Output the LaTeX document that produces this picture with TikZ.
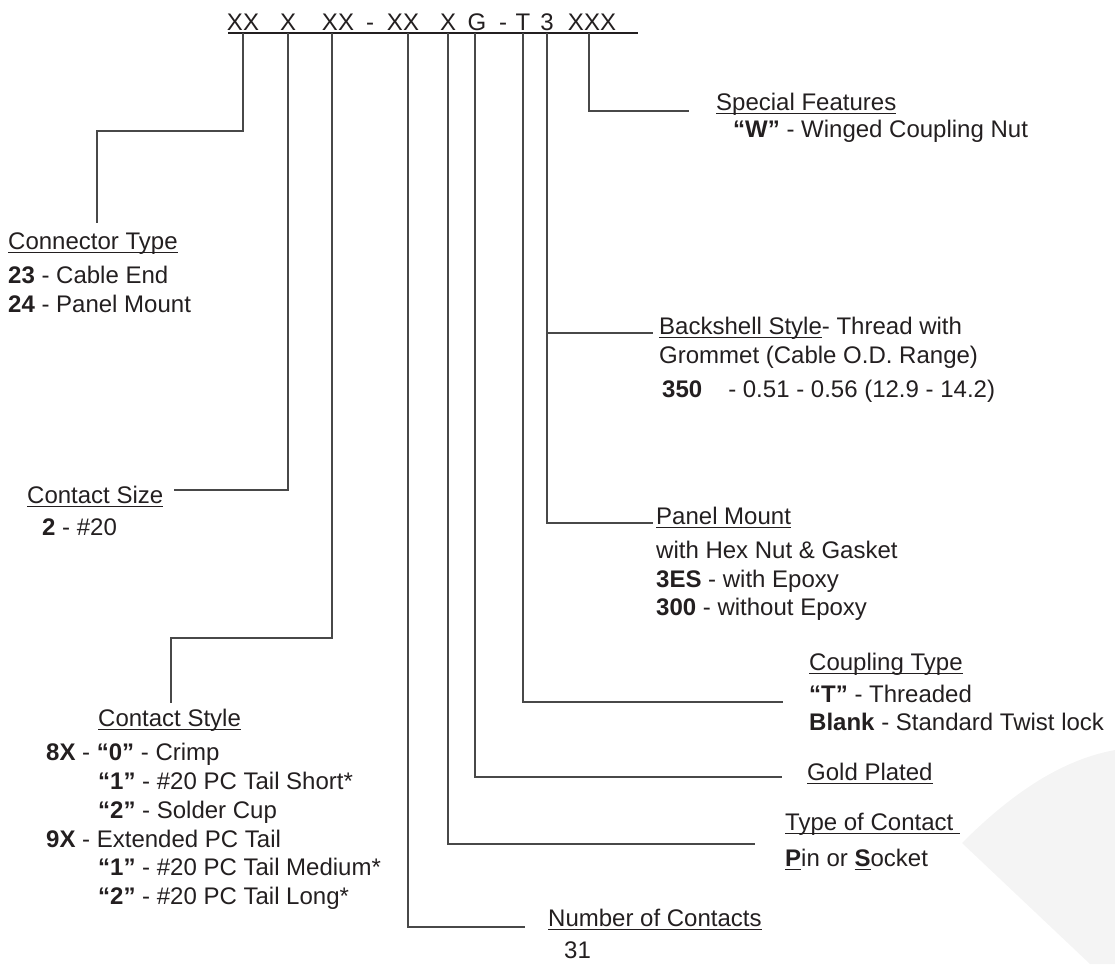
\documentclass[tikz,border=0pt]{standalone}
\usepackage{fontspec}
\setmainfont{Liberation Sans}
\usepackage{tikz}

\definecolor{ink}{RGB}{35,31,32}
\definecolor{wirec}{RGB}{72,72,72}
\definecolor{wmark}{RGB}{244,244,244}
\newcommand{\undl}[1]{\setbox0\hbox{#1}\rlap{\rule[-4pt]{\wd0}{1.3pt}}\box0}

\begin{document}
\begin{tikzpicture}[x=1pt, y=-1pt,
    lbl/.style={anchor=base west, inner sep=0pt, text=ink, font=\fontsize{24}{29}\selectfont},
    code/.style={anchor=base, inner sep=0pt, text=ink, font=\fontsize{24}{29}\selectfont},
    wire/.style={draw=wirec, line width=1.4pt}]
    \useasboundingbox (0,0) rectangle (1115,964);

    % Watermark
    \fill[fill=wmark] (962,843) .. controls (1010,795) and (1060,760) .. (1115,750) -- (1115,964) -- (1090,964) -- cycle;

    % Part number
    \node[code] (fA) at (243,30) {XX};
    \node[code] (fB) at (288,30) {X};
    \node[code] (fC) at (338,30) {XX};
    \node[code] (d1) at (370,30) {-};
    \node[code] (fD) at (403,30) {XX};
    \node[code] (fE) at (448,30) {X};
    \node[code] (fF) at (477,30) {G};
    \node[code] (d2) at (503,30) {-};
    \node[code] (fG) at (523,30) {T};
    \node[code] (fH) at (547,30) {3};
    \node[code] (fI) at (592,30) {XXX};
    \draw[wire, draw=ink] (228,33) coordinate (ulL) -- (638,33) coordinate (ulR);

    % Tap points on the underline
    \coordinate (pA) at (243,33);
    \coordinate (pB) at (288,33);
    \coordinate (pC) at (332,33);
    \coordinate (pD) at (408,33);
    \coordinate (pE) at (448,33);
    \coordinate (pF) at (475,33);
    \coordinate (pG) at (523,33);
    \coordinate (pH) at (547,33);
    \coordinate (pI) at (589,33);

    % Connector type
    \node[lbl] (ct) at (8,249) {\undl{Connector Type}};
    \node[lbl] (ct1) at (8,283) {\textbf{23} - Cable End};
    \node[lbl] (ct2) at (8,312) {\textbf{24} - Panel Mount};

    % Contact size
    \node[lbl] (cs) at (27,503) {\undl{Contact Size}};
    \node[lbl] (cs1) at (42,535) {\textbf{2} - \#20};

    % Contact style
    \node[lbl] (cst) at (98,726) {\undl{Contact Style}};
    \node[lbl] (cst1) at (46,760) {\textbf{8X} - \textbf{“0”} - Crimp};
    \node[lbl] (cst2) at (98,789) {\textbf{“1”} - \#20 PC Tail Short*};
    \node[lbl] (cst3) at (98,818) {\textbf{“2”} - Solder Cup};
    \node[lbl] (cst4) at (46,847) {\textbf{9X} - Extended PC Tail};
    \node[lbl] (cst5) at (98,875) {\textbf{“1”} - \#20 PC Tail Medium*};
    \node[lbl] (cst6) at (98,904) {\textbf{“2”} - \#20 PC Tail Long*};

    % Number of contacts
    \node[lbl] (nc) at (548,926) {\undl{Number of Contacts}};
    \node[lbl] (nc1) at (564,958) {31};

    % Type of contact
    \node[lbl] (tc) at (785,830) {\undl{Type of Contact }};
    \node[lbl] (tc1) at (785,866) {\undl{\textbf{P}}in or \undl{\textbf{S}}ocket};

    % Gold plated
    \node[lbl] (gp) at (807,780) {\undl{Gold Plated}};

    % Coupling type
    \node[lbl] (cp) at (809,670) {\undl{Coupling Type}};
    \node[lbl] (cp1) at (809,702) {\textbf{“T”} - Threaded};
    \node[lbl] (cp2) at (809,730) {\textbf{Blank} - Standard Twist lock};

    % Panel mount
    \node[lbl] (pm) at (656,524) {\undl{Panel Mount}};
    \node[lbl] (pm1) at (656,558) {with Hex Nut \& Gasket};
    \node[lbl] (pm2) at (656,587) {\textbf{3ES} - with Epoxy};
    \node[lbl] (pm3) at (656,615) {\textbf{300} - without Epoxy};

    % Backshell style
    \node[lbl] (bs) at (659,334) {\undl{Backshell Style}- Thread with};
    \node[lbl] (bs1) at (659,363) {Grommet (Cable O.D. Range)};
    \node[lbl] (bs2) at (662,397) {\textbf{350}\hspace{26pt}- 0.51 - 0.56 (12.9 - 14.2)};

    % Special features
    \node[lbl] (sf) at (716,110) {\undl{Special Features}};
    \node[lbl] (sf1) at (733,137) {\textbf{“W”} - Winged Coupling Nut};

    % Leader ends
    \coordinate (eA) at (97,223);
    \coordinate (eB) at (174,490);
    \coordinate (eC) at (171,703);
    \coordinate (eD) at (525,927);
    \coordinate (eE) at (755,844);
    \coordinate (eF) at (782,777);
    \coordinate (eG) at (783,702);
    \coordinate (eH) at (653,523);
    \coordinate (eK) at (653,333);
    \coordinate (eI) at (689,111);

    % Leaders
    \draw[wire] (pA) -- ++(0,98) -| (eA);
    \draw[wire] (pB) |- (eB);
    \draw[wire] (pC) -- ++(0,605) -| (eC);
    \draw[wire] (pD) |- (eD);
    \draw[wire] (pE) |- (eE);
    \draw[wire] (pF) |- (eF);
    \draw[wire] (pG) |- (eG);
    \draw[wire] (pH) |- (eH);
    \draw[wire] (pH |- eK) -- (eK);
    \draw[wire] (pI) |- (eI);
\end{tikzpicture}
\end{document}
